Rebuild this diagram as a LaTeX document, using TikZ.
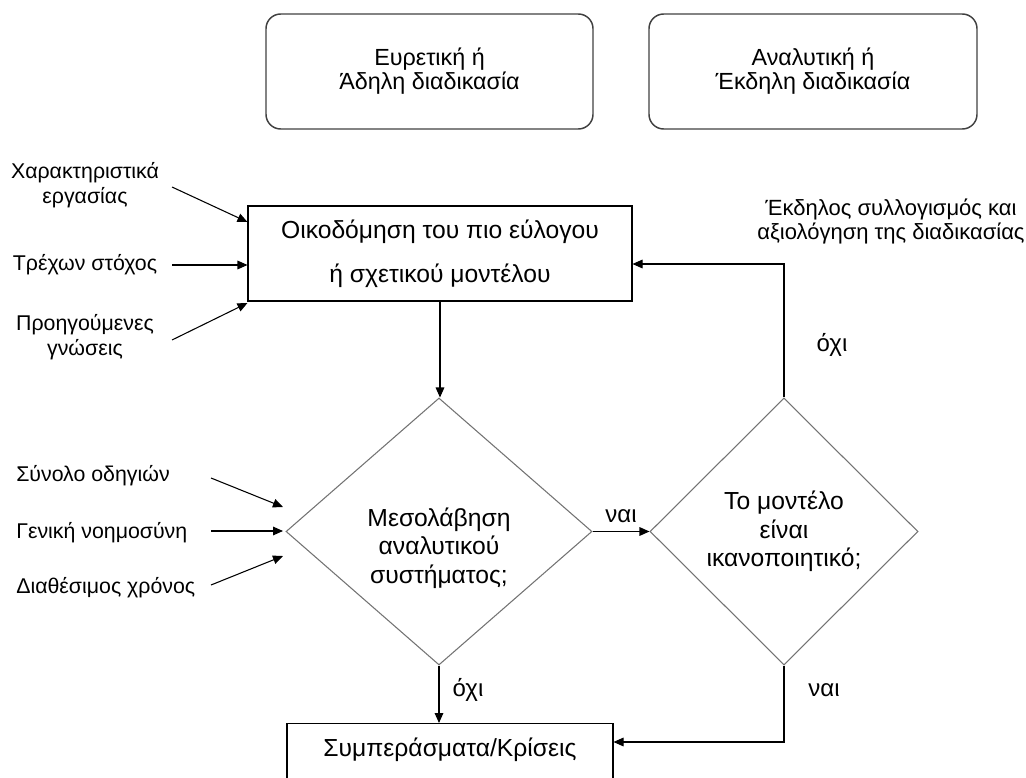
\documentclass[tikz,border=0pt]{standalone}
\usepackage{fontspec}
\setmainfont{Liberation Sans}
\usetikzlibrary{arrows.meta,shapes.geometric,calc}

\tikzset{
  phase/.style={draw=black!75, line width=1.1pt, rounded corners=11pt,
    minimum height=86.25pt, align=center,
    font=\fontsize{17.5}{18}\selectfont},
  procbox/.style={draw, line width=0.8pt, align=center},
  decision/.style={diamond, draw=black!55, line width=0.8pt, inner sep=0pt,
    align=center, font=\fontsize{18.5}{21.5}\selectfont},
  inlabel/.style={align=center, inner sep=0pt,
    font=\fontsize{16}{18.75}\selectfont},
  flow/.style={line width=0.8pt, -{Triangle[length=7.5pt,width=6.5pt]}},
  answer/.style={inner sep=0pt, font=\fontsize{18}{18}\selectfont},
}

\begin{document}
\begin{tikzpicture}[x=0.75pt, y=-0.75pt]
  \useasboundingbox (0,0) rectangle (1026,778);
  \clip (0,0) rectangle (1026,778);

  \node[phase, minimum width=245.25pt] (heur) at (429.5,71.5)
    {Ευρετική ή\\Άδηλη διαδικασία};
  \node[phase, minimum width=246pt] (anal) at (813,71.5)
    {Αναλυτική ή\\Έκδηλη διαδικασία};

  \node[procbox, minimum width=288pt, minimum height=71.25pt,
    font=\fontsize{18.5}{33}\selectfont] (build) at (440,253.5)
    {Οικοδόμηση του πιο εύλογου\\ή σχετικού μοντέλου};

  \node[decision, minimum width=229.5pt, minimum height=200.25pt]
    (med) at (439,531.5) {};
  \node[align=center, inner sep=0pt, font=\fontsize{18.5}{21.5}\selectfont]
    (medtxt) at (439,548) {Μεσολάβηση\\αναλυτικού\\συστήματος;};

  \node[decision, minimum width=201pt, minimum height=200.25pt]
    (sat) at (784,531.5) {Το μοντέλο\\είναι\\ικανοποιητικό;};

  \node[procbox, anchor=north, minimum width=244.5pt, inner ysep=0pt,
    text height=24.75pt, text depth=33.75pt,
    font=\fontsize{18.5}{18}\selectfont] (concl) at (450,723)
    {Συμπεράσματα/Κρίσεις};

  \foreach \name/\txt/\ly/\ay/\by in {
    chr/{Χαρακτηριστικά\\εργασίας}/185/187/222,
    goal/{Τρέχων στόχος}/265/265/265,
    prior/{Προηγούμενες\\γνώσεις}/337/340/303%
  } {
    \node[inlabel] (\name) at (85,\ly) {\txt};
    \coordinate (\name-s) at (172,\ay);
    \draw[flow] (\name-s) -- (build.west |- 0,\by);
  }

  \foreach \name/\txt/\ly/\ay/\by in {
    rules/{Σύνολο οδηγιών}/476/478/507,
    intel/{Γενική νοημοσύνη}/533/531/531,
    time/{Διαθέσιμος χρόνος}/588/585/556%
  } {
    \node[inlabel, anchor=west] (\name) at (16,\ly) {\txt};
    \coordinate (\name-s) at (211,\ay);
    \draw[flow] (\name-s) -- (283,\by);
  }

  \draw[flow] (build.south) -- (build.south |- med.north);
  \draw[flow] (med.east) -- node[answer, above=6pt] (yes1) {ναι} (sat.west);
  \draw[flow] (sat.north) |- ($(build.east)+(0,10.5)$);
  \draw[flow] (med.south) -- (med.south |- concl.north);
  \draw[flow] (sat.south) |- ($(concl.north east)+(0,19)$);

  \node[answer] (no1) at (832,345) {όχι};
  \node[answer] (no2) at (468,690) {όχι};
  \node[answer] (yes2) at (824,690) {ναι};
  \node[inlabel, font=\fontsize{16.5}{18}\selectfont] (explicit) at (891,221)
    {Έκδηλος συλλογισμός και\\αξιολόγηση της διαδικασίας};
\end{tikzpicture}
\end{document}
